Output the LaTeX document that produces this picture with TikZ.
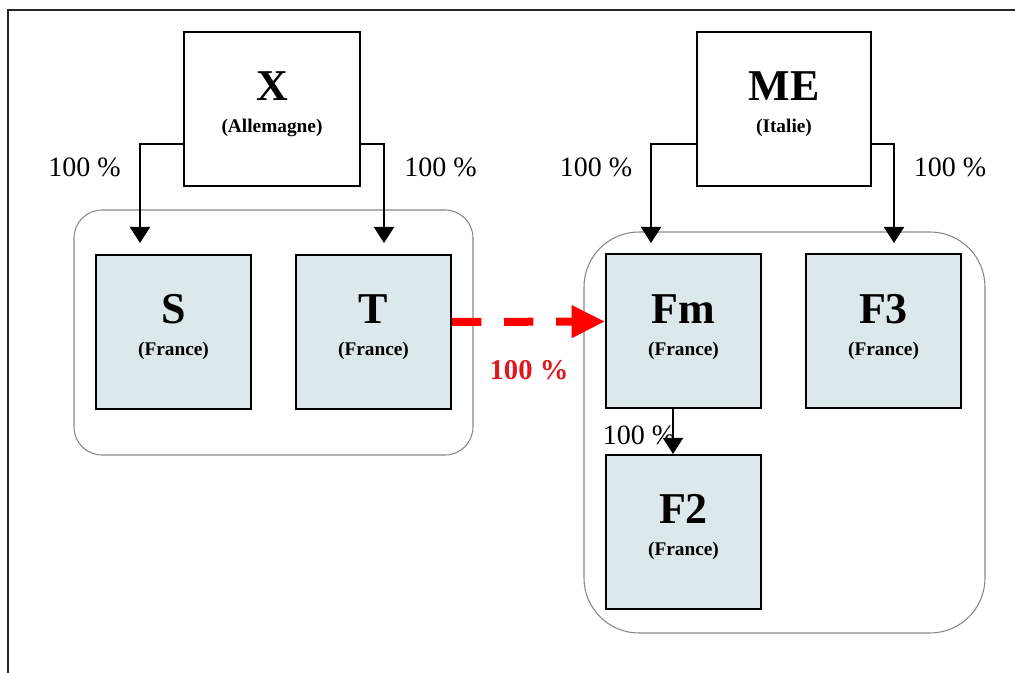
\documentclass[tikz,border=0pt]{standalone}
\usepackage{fontspec}
\setmainfont{Liberation Serif}
\usetikzlibrary{arrows.meta}
\definecolor{boxfill}{RGB}{220,232,235}
\definecolor{grp}{RGB}{135,135,135}
\definecolor{redtxt}{RGB}{222,24,30}
\begin{document}
\begin{tikzpicture}[x=0.75pt,y=-0.75pt,
  topbox/.style={draw=black,line width=1.5pt,fill=white,inner sep=0pt,minimum height=115.5pt},
  cobox/.style={draw=black,line width=1.5pt,fill=boxfill,inner sep=0pt,minimum width=116.25pt,minimum height=115.5pt},
  group/.style={draw=grp,line width=0.8pt},
  big/.style={anchor=base,inner sep=0pt,font=\fontsize{33}{33}\selectfont\bfseries},
  small/.style={anchor=base,inner sep=0pt,font=\fontsize{14.5}{15}\selectfont\bfseries},
  pct/.style={anchor=base,inner sep=0pt,font=\fontsize{21}{22}\selectfont},
  redpct/.style={anchor=base,inner sep=0pt,text=redtxt,font=\fontsize{21.5}{22}\selectfont\bfseries},
  arr/.style={line width=1.5pt,-{Triangle[width=15pt,length=12pt]}},
  redarr/.style={draw=red,line width=6pt,dash pattern=on 22pt off 17pt,-{Triangle[width=23pt,length=25pt]}}
]
\useasboundingbox (0,0) rectangle (1015,673);
% outer frame
\draw[line width=1.5pt,black!85] (7.5,673) -- (7.5,10) -- (1015,10);
% groups
\draw[group,rounded corners=28*0.75pt] (74,210) rectangle (473,455);
\draw[group,rounded corners=55*0.75pt] (584,232) rectangle (985,633);
% parent boxes
\node[topbox,minimum width=132pt] (X) at (272,109) {};
\node[big] (Xt) at (272,101) {X};
\node[small] (Xs) at (272,133) {(Allemagne)};
\node[topbox,minimum width=130.5pt] (ME) at (784,109) {};
\node[big] (MEt) at (784,101) {ME};
\node[small] (MEs) at (784,133) {(Italie)};
% company boxes
\node[cobox] (S) at (173.5,332) {};
\node[big] (St) at (173.5,324) {S};
\node[small] (Ss) at (173.5,356) {(France)};
\node[cobox] (T) at (373.5,332) {};
\node[big] (Tt) at (373.5,324) {T};
\node[small] (Ts) at (373.5,356) {(France)};
\node[cobox] (Fm) at (683.5,331.5) {};
\node[big] (Fmt) at (683.5,324) {Fm};
\node[small] (Fms) at (683.5,356) {(France)};
\node[cobox] (F3) at (883.5,331.5) {};
\node[big] (F3t) at (883.5,324) {F3};
\node[small] (F3s) at (883.5,356) {(France)};
\node[cobox] (F2) at (683.5,532) {};
\node[big] (F2t) at (683.5,524) {F2};
\node[small] (F2s) at (683.5,556) {(France)};
% arrow ends
\coordinate (sIn) at (140,243);
\coordinate (tIn) at (384,243);
\coordinate (fmIn) at (651,243);
\coordinate (f3In) at (894,243);
\coordinate (fa) at (673,0);
% connectors
\draw[arr] ([yshift=-26.25pt]X.west) -| (sIn);
\draw[arr] ([yshift=-26.25pt]X.east) -| (tIn);
\draw[arr] ([yshift=-26.25pt]ME.west) -| (fmIn);
\draw[arr] ([yshift=-26.25pt]ME.east) -| (f3In);
\draw[arr] (Fm.south -| fa) -- (F2.north -| fa);
\draw[redarr] ([yshift=7.5pt]T.east) -- ([yshift=7.5pt]Fm.west);
% labels
\node[pct] (l1) at (84.5,177) {100 \%};
\node[pct] (l2) at (440.5,177) {100 \%};
\node[pct] (l3) at (596,177) {100 \%};
\node[pct] (l4) at (950,177) {100 \%};
\node[pct] (l5) at (639,445) {100 \%};
\node[redpct] (l6) at (529,380) {100 \%};
\end{tikzpicture}
\end{document}
